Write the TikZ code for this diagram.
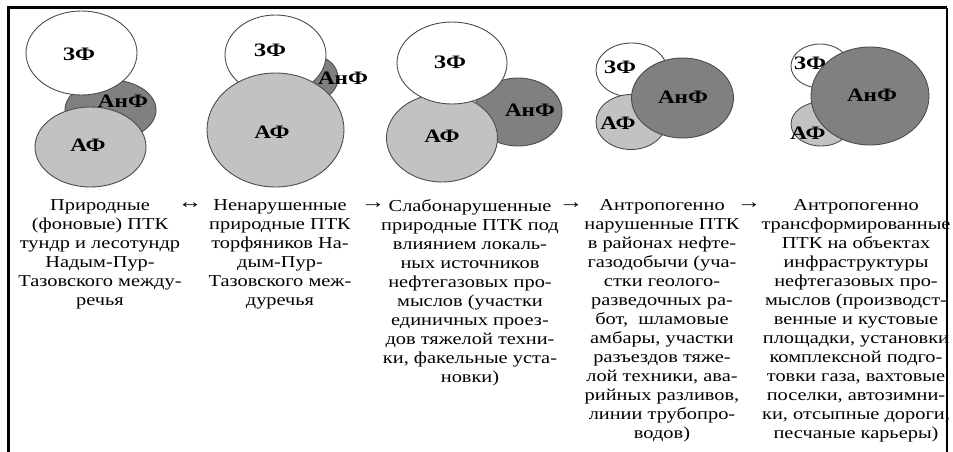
\documentclass[tikz,border=0pt]{standalone}
\usepackage{fontspec}
\setmainfont{Liberation Serif}[FakeStretch=1.22]
\usetikzlibrary{calc}

\definecolor{anfgray}{gray}{0.5}
\definecolor{afgray}{gray}{0.76}
\definecolor{rimgray}{gray}{0.3}

\begin{document}
\begin{tikzpicture}[x=1pt, y=-1pt,
    zf/.style={fill=white, draw=rimgray, line width=0.9pt},
    anf/.style={fill=anfgray, draw=rimgray, line width=0.9pt},
    af/.style={fill=afgray, draw=rimgray, line width=0.9pt},
    lbl/.style={font=\fontsize{19}{19}\selectfont\bfseries, inner sep=0pt},
    txt/.style={font=\fontsize{16.7}{19}\selectfont, align=center, anchor=north, inner sep=0pt},
    arr/.style={font=\fontsize{20}{20}\selectfont, inner sep=0pt}]
    \useasboundingbox (0,0) rectangle (953,452);

    %Frame
    \draw[line width=3pt] (8,452) -- (8,8) -- (947,8);
    \draw[line width=2pt] (947,8) -- (947,452);

    %Group 1
    \filldraw[anf] (110.5,110) ellipse (45.5pt and 30pt);
    \filldraw[zf] (81.5,53) ellipse (55.5pt and 42pt);
    \filldraw[af] (90.5,147) ellipse (55.5pt and 40pt);
    \node[lbl] (zf1) at (79,54) {ЗФ};
    \node[lbl] (anf1) at (123,101) {АнФ};
    \node[lbl] (af1) at (88,145) {АФ};

    %Group 2
    \filldraw[anf] (314,78) ellipse (24pt and 22pt);
    \filldraw[zf] (275.5,55) ellipse (50.5pt and 40pt);
    \filldraw[af] (275.5,130) ellipse (68.5pt and 57pt);
    \node[lbl] (zf2) at (270,50) {ЗФ};
    \node[lbl] (anf2) at (343,78) {АнФ};
    \node[lbl] (af2) at (272,132) {АФ};

    %Group 3
    \filldraw[anf] (518,112) ellipse (44pt and 34pt);
    \filldraw[af] (442,138) ellipse (55.5pt and 44pt);
    \filldraw[zf] (452,63) ellipse (55pt and 41pt);
    \node[lbl] (zf3) at (450,62) {ЗФ};
    \node[lbl] (anf3) at (530,110) {АнФ};
    \node[lbl] (af3) at (442,136) {АФ};

    %Group 4
    \filldraw[zf] (631.5,70) ellipse (35.5pt and 27pt);
    \filldraw[af] (631,122) ellipse (35pt and 27.5pt);
    \filldraw[anf] (682.5,98) ellipse (51pt and 40pt);
    \node[lbl] (zf4) at (620,67) {ЗФ};
    \node[lbl] (anf4) at (683,97) {АнФ};
    \node[lbl] (af4) at (618,123) {АФ};

    %Group 5
    \filldraw[zf] (820,66) ellipse (29pt and 22pt);
    \filldraw[af] (821,124) ellipse (30pt and 22pt);
    \filldraw[anf] (870,96) ellipse (59pt and 49pt);
    \node[lbl] (zf5) at (810,63) {ЗФ};
    \node[lbl] (anf5) at (872,95) {АнФ};
    \node[lbl] (af5) at (808,133) {АФ};

    %Captions
    \node[txt] (t1) at (100,199) {Природные\\(фоновые) ПТК\\тундр и лесотундр\\Надым-Пур-\\Тазовского между-\\речья};
    \node[txt] (t2) at (280,199) {Ненарушенные\\природные ПТК\\торфяников На-\\дым-Пур-\\Тазовского меж-\\дуречья};
    \node[txt] (t3) at (470,199) {Слабонарушенные\\природные ПТК под\\влиянием локаль-\\ных источников\\нефтегазовых про-\\мыслов (участки\\единичных проез-\\дов тяжелой техни-\\ки, факельные уста-\\новки)};
    \node[txt] (t4) at (662,199) {Антропогенно\\нарушенные ПТК\\в районах нефте-\\газодобычи (уча-\\стки геолого-\\разведочных ра-\\бот,\ \ шламовые\\амбары, участки\\разъездов тяже-\\лой техники, ава-\\рийных разливов,\\линии трубопро-\\водов)};
    \node[txt] (t5) at (856,199) {Антропогенно\\трансформированные\\ПТК на объектах\\инфраструктуры\\нефтегазовых про-\\мыслов (производст-\\венные и кустовые\\площадки, установки\\комплексной подго-\\товки газа, вахтовые\\поселки, автозимни-\\ки, отсыпные дороги,\\песчаные карьеры)};

    %Arrows
    \node[arr] (a12) at (190,206) {↔};
    \node[arr] (a23) at (373,206) {→};
    \node[arr] (a34) at (571,206) {→};
    \node[arr] (a45) at (749,206) {→};
\end{tikzpicture}
\end{document}
